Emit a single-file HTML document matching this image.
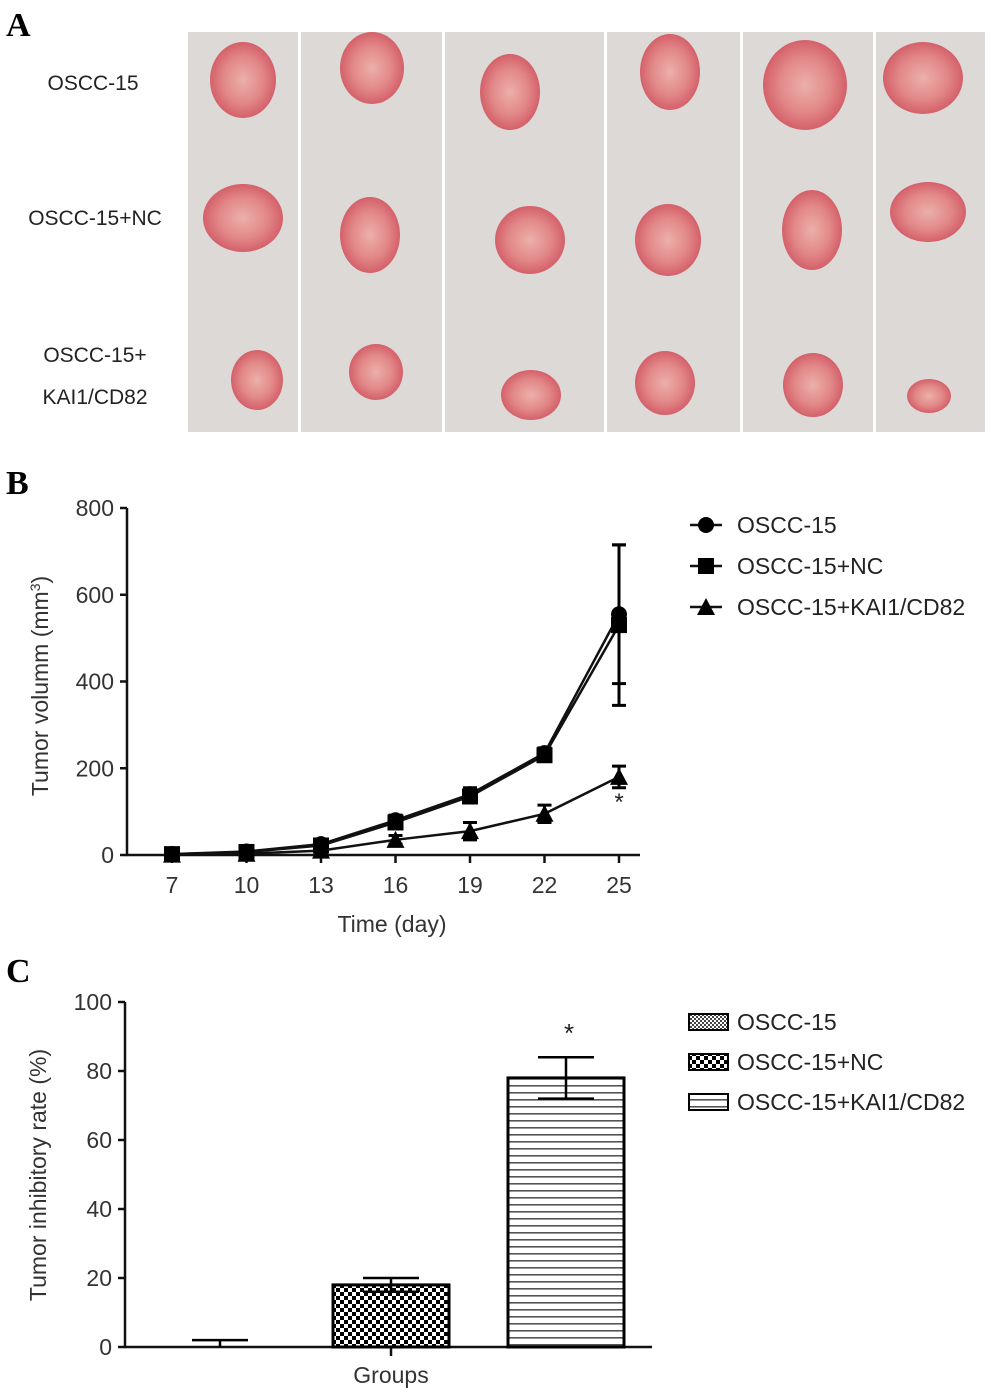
<!DOCTYPE html>
<html><head><meta charset="utf-8"><style>
html,body{margin:0;padding:0;background:#fff;}
svg{display:block;font-family:"Liberation Sans",Arial,sans-serif;}
</style></head><body>
<svg id="fig" width="998" height="1395" viewBox="0 0 998 1395" xmlns="http://www.w3.org/2000/svg">
<defs>
<pattern id="checker" width="8" height="8" patternUnits="userSpaceOnUse"><rect width="8" height="8" fill="#fff"/><rect width="4" height="4" fill="#000"/><rect x="4" y="4" width="4" height="4" fill="#000"/></pattern>
<pattern id="dots" width="4" height="4" patternUnits="userSpaceOnUse"><rect width="4" height="4" fill="#fff"/><rect width="2" height="2" fill="#444"/><rect x="2" y="2" width="2" height="2" fill="#444"/></pattern>
<pattern id="hlines" width="8" height="7" patternUnits="userSpaceOnUse"><rect width="8" height="7" fill="#fff"/><rect y="0" width="8" height="1.6" fill="#555"/></pattern>
<radialGradient id="tum"><stop offset="0" stop-color="#ecb0aa"/><stop offset="0.6" stop-color="#e28888"/><stop offset="1" stop-color="#d4606a"/></radialGradient>
</defs>
<text x="6" y="36" font-family="Liberation Serif,serif" font-weight="bold" font-size="34">A</text>
<text x="6" y="494" font-family="Liberation Serif,serif" font-weight="bold" font-size="34">B</text>
<text x="6" y="982" font-family="Liberation Serif,serif" font-weight="bold" font-size="34">C</text>
<g id="photos"></g>
<g font-size="21" fill="#222">
<text x="93" y="90" text-anchor="middle">OSCC-15</text>
<text x="95" y="225" text-anchor="middle">OSCC-15+NC</text>
<text x="95" y="362" text-anchor="middle">OSCC-15+</text>
<text x="95" y="404" text-anchor="middle">KAI1/CD82</text>
</g>
<g id="chartB"></g>
<g id="chartC"></g>
</svg>
<script>
// Panel B data
const days = [7, 10, 13, 16, 19, 22, 25];
const volOSCC = [2, 8, 25, 80, 140, 235, 555];
const volNC = [2, 7, 22, 75, 135, 230, 530];
const volKAI = [1, 3, 10, 35, 55, 95, 180];
const errOSCC = [3, 5, 6, 12, 15, 12, 160];
const errNC = [3, 5, 6, 12, 15, 12, 185];
const errKAI = [2, 3, 4, 10, 20, 20, 25];
const yTicksB = [0, 200, 400, 600, 800];
// Panel C data
const groups = ["OSCC-15", "OSCC-15+NC", "OSCC-15+KAI1/CD82"];
const rates = [0, 18, 78];
const rateErr = [2, 2, 6];
const yTicksC = [0, 20, 40, 60, 80, 100];

const NS = "http://www.w3.org/2000/svg";
function mk(parent, tag, attrs){const e=document.createElementNS(NS,tag);for(const k in attrs)e.setAttribute(k,attrs[k]);parent.appendChild(e);return e;}

// Panel A photos
const ph = document.getElementById('photos');
const bg = mk(ph,'rect',{x:188,y:32,width:797,height:400,fill:'#dcd9d6'});


const tumors = [[243,80,33,38],[372,68,32,36],[510,92,30,38],[670,72,30,38],[805,85,42,45],[923,78,40,36],
[243,218,40,34],[370,235,30,38],[530,240,35,34],[668,240,33,36],[812,230,30,40],[928,212,38,30],
[257,380,26,30],[376,372,27,28],[531,395,30,25],[665,383,30,32],[813,385,30,32],[929,396,22,17]];
tumors.forEach(t=>{const e=mk(ph,'ellipse',{cx:t[0],cy:t[1],rx:t[2],ry:t[3],fill:'url(#tum)'});

});
[299,443,605,741,874].forEach(x=>{const l=mk(ph,'rect',{x:x-1,y:32,width:3,height:400,fill:'#fff'});

});

// Panel B
const gB = document.getElementById('chartB');
const xB = d => 172 + (d-7)*(619-172)/18;
const yB = v => 855 - v*(855-508)/800;
const ax = mk(gB,'path',{d:`M127 508 V855 H640`,stroke:'#111','stroke-width':2.5,fill:'none'});


yTicksB.forEach(v=>{mk(gB,'line',{x1:120,x2:127,y1:yB(v),y2:yB(v),stroke:'#111','stroke-width':2.5});
const t=mk(gB,'text',{x:114,y:yB(v)+8,'text-anchor':'end','font-size':23,fill:'#333'});t.textContent=v;

});
days.forEach(d=>{mk(gB,'line',{x1:xB(d),x2:xB(d),y1:855,y2:863,stroke:'#111','stroke-width':2.5});
const t=mk(gB,'text',{x:xB(d),y:893,'text-anchor':'middle','font-size':23,fill:'#333'});t.textContent=d;

});
let t=mk(gB,'text',{x:392,y:932,'text-anchor':'middle','font-size':23,fill:'#333'});t.textContent='Time (day)';


t=mk(gB,'text',{x:0,y:0,'text-anchor':'middle','font-size':23,fill:'#333',transform:'translate(48 686) rotate(-90)'});
t.innerHTML='Tumor volumm (mm<tspan dy="-8" font-size="14">3</tspan><tspan dy="8">)</tspan>';


function marker(g,shape,x,y){
 if(shape==='c') return mk(g,'circle',{cx:x,cy:y,r:8,fill:'#000'});
 if(shape==='s') return mk(g,'rect',{x:x-8,y:y-8,width:16,height:16,fill:'#000'});
 return mk(g,'path',{d:`M${x} ${y-9} L${x+9} ${y+8} L${x-9} ${y+8}Z`,fill:'#000'});
}
const seriesB=[[volOSCC,errOSCC,'c','OSCC-15'],[volNC,errNC,'s','OSCC-15+NC'],[volKAI,errKAI,'t','OSCC-15+KAI1/CD82']];
seriesB.forEach((s,si)=>{
 const g=mk(gB,'g',{});
 
 
 const pts=days.map((d,i)=>xB(d)+','+yB(s[0][i])).join(' ');
 const pl=mk(g,'polyline',{points:pts,fill:'none',stroke:'#111','stroke-width':2.5});
 
 
 days.forEach((d,i)=>{
  const x=xB(d),y1=yB(s[0][i]+s[1][i]),y2=yB(Math.max(0,s[0][i]-s[1][i]));
  const eb=mk(g,'path',{d:`M${x} ${y1} V${y2} M${x-7} ${y1} H${x+7} M${x-7} ${y2} H${x+7}`,stroke:'#000','stroke-width':3,fill:'none'});
  
  
  const m=marker(g,s[2],x,yB(s[0][i]));
  
  
 });
 const ly=525+si*41;
 const lg=mk(gB,'g',{});
 
 
 mk(lg,'line',{x1:690,x2:722,y1:ly,y2:ly,stroke:'#111','stroke-width':2.5});
 marker(lg,s[2],706,ly);
 const lt=mk(lg,'text',{x:737,y:ly+8,'font-size':23,fill:'#222'});lt.textContent=s[3];
});
t=mk(gB,'text',{x:619,y:810,'text-anchor':'middle','font-size':24,fill:'#222'});t.textContent='*';



// Panel C
const gC=document.getElementById('chartC');
const yC=v=>1347-v*(1347-1002)/100;
const barCenters=[220,391,566];
const fills=['url(#dots)','url(#checker)','url(#hlines)'];
const ax2=mk(gC,'path',{d:'M125 1002 V1347 H652',stroke:'#111','stroke-width':2.5,fill:'none'});


yTicksC.forEach(v=>{mk(gC,'line',{x1:118,x2:125,y1:yC(v),y2:yC(v),stroke:'#111','stroke-width':2.5});
const tt=mk(gC,'text',{x:112,y:yC(v)+8,'text-anchor':'end','font-size':23,fill:'#333'});tt.textContent=v;

});
mk(gC,'line',{x1:391,x2:391,y1:1347,y2:1356,stroke:'#111','stroke-width':2.5});
t=mk(gC,'text',{x:391,y:1383,'text-anchor':'middle','font-size':23,fill:'#333'});t.textContent='Groups';


t=mk(gC,'text',{x:0,y:0,'text-anchor':'middle','font-size':23,fill:'#333',transform:'translate(46 1175) rotate(-90)'});t.textContent='Tumor inhibitory rate (%)';


rates.forEach((r,i)=>{
 const cx=barCenters[i],w=116;
 if(r>0){const b=mk(gC,'rect',{x:cx-w/2,y:yC(r),width:w,height:yC(0)-yC(r),fill:fills[i],stroke:'#000','stroke-width':3});
 
 }
 const yt=yC(r+rateErr[i]), yb=yC(Math.max(0,r-rateErr[i]));
 const eb=mk(gC,'path',{d:`M${cx} ${yt} V${yb} M${cx-28} ${yt} H${cx+28}`+(r>0?` M${cx-28} ${yb} H${cx+28}`:''),stroke:'#000','stroke-width':2.5,fill:'none'});
 
 
 const ly=1022+i*40;
 const lg=mk(gC,'g',{});
 
 
 mk(lg,'rect',{x:689,y:ly-8,width:39,height:16,fill:fills[i],stroke:'#000','stroke-width':2});
 const lt=mk(lg,'text',{x:737,y:ly+8,'font-size':23,fill:'#222'});lt.textContent=groups[i];
});
t=mk(gC,'text',{x:569,y:1042,'text-anchor':'middle','font-size':26,fill:'#222'});t.textContent='*';


</script>
</body></html>
